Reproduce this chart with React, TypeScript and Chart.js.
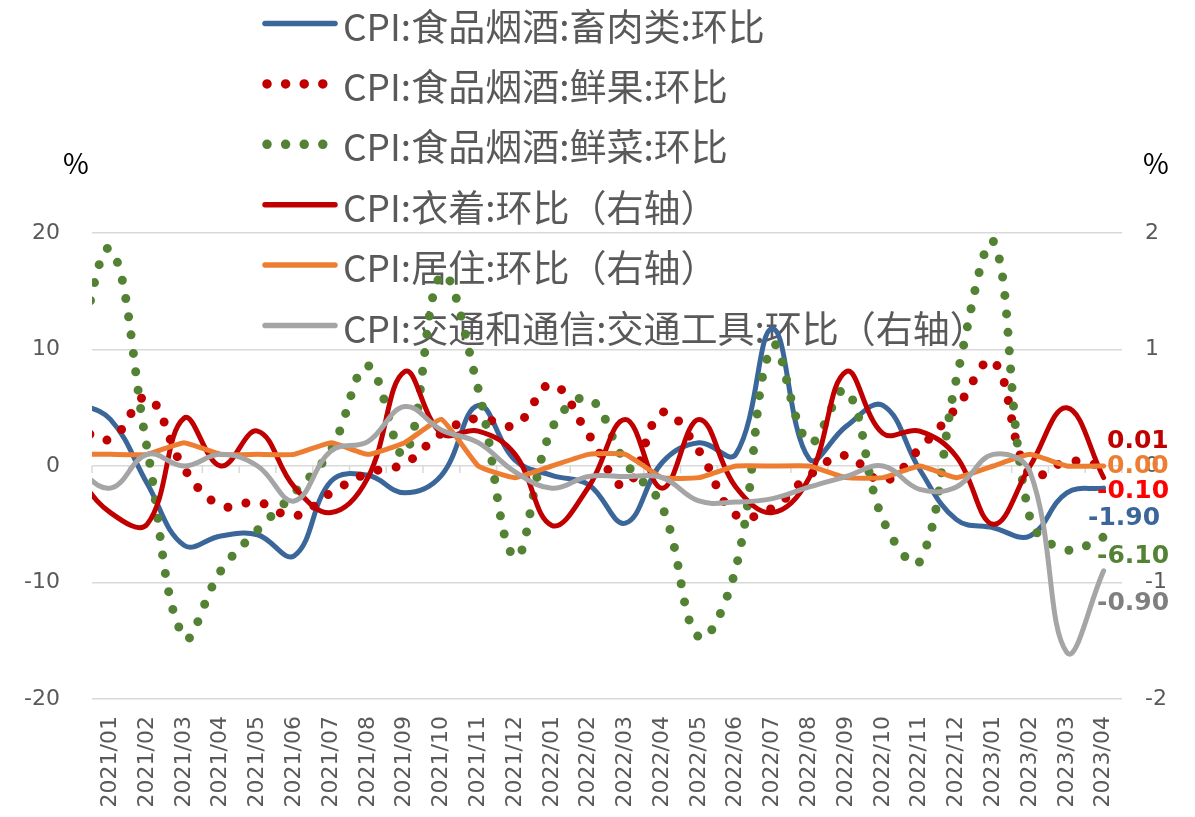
import React, { useEffect, useRef } from 'react';
import { Chart, registerables } from 'chart.js';

Chart.register(...registerables);

// ---- data (2020/12 is only partly visible: the axis starts at 2021/01) ----
const months = [
  '2020/12',
  '2021/01', '2021/02', '2021/03', '2021/04', '2021/05', '2021/06',
  '2021/07', '2021/08', '2021/09', '2021/10', '2021/11', '2021/12',
  '2022/01', '2022/02', '2022/03', '2022/04', '2022/05', '2022/06',
  '2022/07', '2022/08', '2022/09', '2022/10', '2022/11', '2022/12',
  '2023/01', '2023/02', '2023/03', '2023/04',
];

// left axis (%)
const meatMoM = [
  5.5,
  4.0, -1.5, -6.8, -6.0, -5.9, -7.7,
  -1.3, -0.8, -2.3, -0.8, 5.2, 0.5,
  -0.8, -1.6, -4.9, 0.3, 2.0, 1.0,
  11.8, 0.6, 3.4, 5.2, -0.3, -4.6,
  -5.3, -6.0, -2.3, -1.9,
];
const fruitMoM = [
  3.5,
  2.3, 5.9, -0.2, -3.4, -3.1, -4.3,
  -2.3, -0.6, 0.2, 2.8, 4.1, 3.5,
  7.0, 2.7, -1.7, 4.6, 1.3, -4.2,
  -3.6, -0.8, 0.9, -1.3, 1.5, 5.0,
  9.0, -0.8, 0.4, 0.01,
];
const vegMoM = [
  8.0,
  18.6, 1.5, -14.7, -9.0, -5.5, -2.3,
  1.4, 8.6, 1.0, 16.4, 6.6, -7.8,
  3.2, 5.8, 0.3, -3.5, -14.7, -8.8,
  10.3, 2.0, 6.5, -4.6, -8.2, 7.5,
  19.3, -4.5, -7.2, -6.1,
];
// right axis (%)
const clothingMoM = [
  -0.05,
  -0.4, -0.5, 0.41, 0.0, 0.3, -0.18,
  -0.4, -0.1, 0.81, 0.28, 0.3, 0.1,
  -0.51, -0.18, 0.4, -0.19, 0.4, -0.18,
  -0.4, -0.1, 0.81, 0.28, 0.3, 0.08,
  -0.5, 0.0, 0.5, -0.1,
];
const housingMoM = [
  0.1,
  0.1, 0.1, 0.2, 0.1, 0.1, 0.1,
  0.2, 0.1, 0.2, 0.4, 0.0, -0.1,
  0.0, 0.1, 0.1, -0.1, -0.1, 0.0,
  0.0, 0.0, -0.1, -0.1, 0.0, -0.1,
  0.0, 0.1, 0.0, 0.0,
];
const vehicleMoM = [
  0.0,
  -0.19, 0.1, 0.0, 0.1, 0.0, -0.3,
  0.13, 0.21, 0.51, 0.31, 0.2, -0.05,
  -0.19, -0.09, -0.09, -0.1, -0.3, -0.31,
  -0.28, -0.18, -0.09, 0.0, -0.2, -0.18,
  0.1, -0.05, -1.6, -0.9,
];

const leftTicks = [-20, -10, 0, 10, 20];
const rightTicks = [-2, -1, 0, 1, 2];

const seriesNames = [
  'CPI:食品烟酒:畜肉类:环比',
  'CPI:食品烟酒:鲜果:环比',
  'CPI:食品烟酒:鲜菜:环比',
  'CPI:衣着:环比（右轴）',
  'CPI:居住:环比（右轴）',
  'CPI:交通和通信:交通工具:环比（右轴）',
];

// ---- styles ----
const BLUE = '#3A6699';
const DARKRED = '#C00000';
const GREEN = '#548235';
const ORANGE = '#ED7D31';
const GRAY = '#A5A5A5';
const TEXT = '#595959';
const GRID = '#D9D9D9';

const seriesStyle = [
  { color: BLUE, dotted: false, axis: 'y', tension: 0.4 },
  { color: DARKRED, dotted: true, axis: 'y', tension: 0.4 },
  { color: GREEN, dotted: true, axis: 'y', tension: 0.4 },
  { color: DARKRED, dotted: false, axis: 'y1', tension: 0.4 },
  { color: ORANGE, dotted: false, axis: 'y1', tension: 0.12 },
  { color: GRAY, dotted: false, axis: 'y1', tension: 0.4 },
];

// end-of-line value labels: which series, colour, anchor (left-axis units), x shift from plot right edge
const endLabelSpec = [
  { series: 1, color: '#C00000', at: 2.1, dx: -15 },
  { series: 4, color: '#ED7D31', at: 0, dx: -15 },
  { series: 3, color: '#FF0000', at: -2.2, dx: -25 },
  { series: 0, color: '#3A6699', at: -4.5, dx: -34 },
  { series: 2, color: '#548235', at: -7.8, dx: -25 },
  { series: 5, color: '#7F7F7F', at: -11.8, dx: -25 },
];

const allSeries = [meatMoM, fruitMoM, vegMoM, clothingMoM, housingMoM, vehicleMoM];

const LEGEND = { x: 265, y0: 23.5, dy: 60.4, sample: 70, textX: 343, font: '37px "Noto Sans CJK SC"' };

const overlayPlugin = {
  id: 'overlay',
  beforeDatasetsDraw(chart: any) {
    const { ctx, chartArea, scales } = chart;
    const xs = scales.x;
    const ys = scales.y;
    const y0 = ys.getPixelForValue(0);
    ctx.save();
    // category-boundary tick marks on the zero line
    ctx.strokeStyle = GRID;
    ctx.lineWidth = 1.5;
    for (let i = 1; i <= months.length; i++) {
      const px = xs.getPixelForValue(i - 0.5);
      if (px < chartArea.left - 1 || px > chartArea.right + 1) continue;
      ctx.beginPath();
      ctx.moveTo(px, y0);
      ctx.lineTo(px, y0 + 7);
      ctx.stroke();
    }
    // legend
    seriesNames.forEach((name, i) => {
      const st = seriesStyle[i];
      const cy = LEGEND.y0 + LEGEND.dy * i;
      ctx.beginPath();
      ctx.strokeStyle = st.color;
      ctx.lineCap = 'round';
      if (st.dotted) {
        ctx.lineWidth = 9.5;
        ctx.setLineDash([0, 18.6]);
        ctx.moveTo(LEGEND.x + 2, cy);
        ctx.lineTo(LEGEND.x + LEGEND.sample - 3, cy);
      } else {
        ctx.lineWidth = 5.5;
        ctx.setLineDash([]);
        ctx.moveTo(LEGEND.x, cy);
        ctx.lineTo(LEGEND.x + LEGEND.sample, cy);
      }
      ctx.stroke();
      ctx.setLineDash([]);
      ctx.fillStyle = TEXT;
      ctx.font = LEGEND.font;
      ctx.textAlign = 'left';
      ctx.textBaseline = 'middle';
      ctx.fillText(name, LEGEND.textX, cy + 3);
    });
    ctx.restore();
  },
  afterDatasetsDraw(chart: any) {
    const { ctx, chartArea, scales } = chart;
    const ys = scales.y;
    ctx.save();
    // unit marks
    ctx.fillStyle = '#000';
    ctx.font = '28px "Noto Sans CJK SC"';
    ctx.textAlign = 'center';
    ctx.textBaseline = 'middle';
    ctx.fillText('%', chartArea.left - 16, chartArea.top - 70);
    ctx.fillText('%', chartArea.right + 34, chartArea.top - 70);
    // end labels
    ctx.font = 'bold 25px "DejaVu Sans"';
    ctx.textAlign = 'left';
    endLabelSpec.forEach((l) => {
      const data = allSeries[l.series];
      const v = data[data.length - 1];
      ctx.fillStyle = l.color;
      ctx.fillText(v.toFixed(2), chartArea.right + l.dx, ys.getPixelForValue(l.at));
    });
    ctx.restore();
  },
};

export default function App() {
  const ref = useRef<HTMLCanvasElement>(null);
  useEffect(() => {
    const tickFont = { family: '"DejaVu Sans"', size: 22 };
    const chart = new Chart(ref.current as HTMLCanvasElement, {
      type: 'line',
      data: {
        labels: months,
        datasets: allSeries.map((d, i) => ({
          label: seriesNames[i],
          data: d,
          yAxisID: seriesStyle[i].axis,
          borderColor: seriesStyle[i].color,
          backgroundColor: seriesStyle[i].color,
          borderWidth: seriesStyle[i].dotted ? 9 : 5,
          borderDash: seriesStyle[i].dotted ? [0, 18.5] : [],
          borderCapStyle: 'round',
          borderJoinStyle: 'round',
          pointRadius: 0,
          tension: seriesStyle[i].tension,
          fill: false,
          clip: 0,
          order: 10 - i,
        })),
      },
      options: {
        responsive: false,
        animation: false,
        events: [],
        layout: { padding: { top: 233, left: 0, right: 0, bottom: 0 } },
        plugins: { legend: { display: false }, tooltip: { enabled: false } },
        scales: {
          x: {
            type: 'category',
            min: '2021/01',
            max: '2023/04',
            offset: true,
            grid: { display: false, drawTicks: false },
            border: { display: false },
            ticks: {
              autoSkip: false,
              minRotation: 90,
              maxRotation: 90,
              padding: 17,
              color: TEXT,
              font: tickFont,
            },
            afterFit: (s: any) => { s.height = 118; },
          },
          y: {
            position: 'left',
            min: -20,
            max: 20,
            afterBuildTicks: (s: any) => { s.ticks = leftTicks.map((v) => ({ value: v })); },
            grid: { color: GRID, lineWidth: 1.5, drawTicks: false },
            border: { display: false },
            ticks: { padding: 32, color: TEXT, font: tickFont },
            afterFit: (s: any) => { s.width = 92; },
          },
          y1: {
            position: 'right',
            min: -2,
            max: 2,
            afterBuildTicks: (s: any) => { s.ticks = rightTicks.map((v) => ({ value: v })); },
            grid: { display: false, drawTicks: false },
            border: { display: false },
            ticks: { padding: 23, color: TEXT, font: tickFont },
            afterFit: (s: any) => { s.width = 73; },
          },
        },
      },
      plugins: [overlayPlugin],
    } as any);
    return () => chart.destroy();
  }, []);
  return (
    <div style={{ position: 'absolute', left: 0, top: 0, width: 1195, height: 817, background: '#fff' }}>
      <canvas ref={ref} width={1195} height={817} style={{ display: 'block' }} />
    </div>
  );
}
